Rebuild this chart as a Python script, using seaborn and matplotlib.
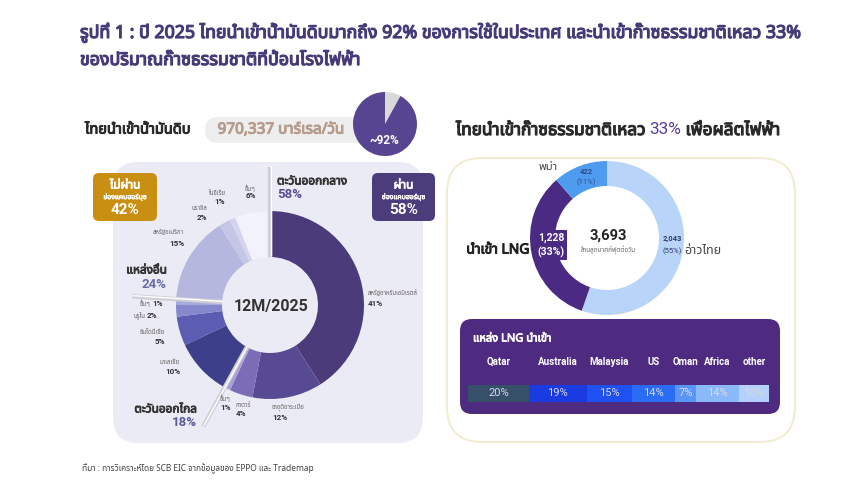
import numpy as np
import matplotlib
matplotlib.use('Agg')
import matplotlib.pyplot as plt
import seaborn as sns
from matplotlib import font_manager as fm
from matplotlib.ft2font import FT2Font
from matplotlib.patches import FancyBboxPatch
from matplotlib.patheffects import withStroke

# ---- data ----
title_1 = 'รูปที่ 1 : ปี 2025 ไทยนำเข้าน้ำมันดิบมากถึง 92% ของการใช้ในประเทศ และนำเข้าก๊าซธรรมชาติเหลว 33%'
title_2 = 'ของปริมาณก๊าซธรรมชาติที่ป้อนโรงไฟฟ้า'
source_note = 'ที่มา : การวิเคราะห์โดย SCB EIC จากข้อมูลของ EPPO และ Trademap'

crude_volume = '970,337'
crude_import_pct = 92

crude_names = ['สหรัฐอาหรับเอมิเรตส์', 'ซาอุดิอาระเบีย', 'กาตาร์', 'อื่นๆ',
               'มาเลเซีย', 'อินโดนีเซีย', 'บรูไน', 'อื่นๆ',
               'สหรัฐอเมริกา', 'บราซิล', 'ไนจีเรีย', 'อื่นๆ']
crude_share = [41, 12, 4, 1, 10, 5, 2, 1, 15, 2, 1, 6]
crude_region = ['ME'] * 4 + ['FE'] * 4 + ['OT'] * 4
region_names = {'ME': 'ตะวันออกกลาง', 'FE': 'ตะวันออกไกล', 'OT': 'แหล่งอื่น'}
hormuz_pass = 58
hormuz_nopass = 42

gas_names = ['อ่าวไทย', 'นำเข้า LNG', 'พม่า']
gas_volume = [2043, 1228, 422]
gas_share = [55, 33, 11]
gas_total = 3693
gas_lng_pct = 33

lng_names = ['Qatar', 'Australia', 'Malaysia', 'US', 'Oman', 'Africa', 'other']
lng_share = [20, 19, 15, 14, 7, 14, 10]


# ---- font with Thai glyphs ----
def find_thai_font():
    pref = ['Noto Sans Thai', 'Noto Sans Thai UI', 'Sarabun', 'Kanit', 'Prompt',
            'Loma', 'Garuda', 'Waree', 'Umpush', 'Tlwg Typo', 'Norasi', 'Kinnari']
    names = {f.name for f in fm.fontManager.ttflist}
    for p in pref:
        if p in names:
            return p
    for f in fm.fontManager.ttflist:
        try:
            if 0x0E01 in FT2Font(f.fname).get_charmap():
                return f.name
        except Exception:
            pass
    return None


sns.set_theme(style='white')
thai = find_thai_font()
plt.rcParams['font.family'] = [thai, 'DejaVu Sans'] if thai else ['DejaVu Sans']
thai_bold = False
if thai:
    thai_bold = (fm.findfont(fm.FontProperties(family=thai)) !=
                 fm.findfont(fm.FontProperties(family=thai, weight='bold')))

W, H = 860, 503
fig = plt.figure(figsize=(W / 100, H / 100), dpi=100)
fig.patch.set_facecolor('white')
bg = fig.add_axes([0, 0, 1, 1])
bg.set_xlim(0, W)
bg.set_ylim(H, 0)
bg.axis('off')
top = fig.add_axes([0, 0, 1, 1], zorder=10)
top.set_xlim(0, W)
top.set_ylim(H, 0)
top.axis('off')


def has_thai(s):
    return any('\u0e00' <= ch <= '\u0e7f' for ch in s)


def T(x, y, s, size, color, bold=False, ha='left', ax=None, **kw):
    ax = top if ax is None else ax
    if not has_thai(s):
        return ax.text(x, y, s, fontsize=size, color=color, ha=ha, va='center',
                       fontweight='bold' if bold else 'normal',
                       family=['Roboto', 'DejaVu Sans'], **kw)
    pe = None
    if bold and not thai_bold:
        pe = [withStroke(linewidth=size * 0.07, foreground=color)]
    return ax.text(x, y, s, fontsize=size, color=color, ha=ha, va='center',
                   fontweight='bold' if bold else 'normal', path_effects=pe, **kw)


def px_axes(cx, cy, half_w, half_h=None):
    half_h = half_w if half_h is None else half_h
    ax = fig.add_axes([(cx - half_w) / W, 1 - (cy + half_h) / H, 2 * half_w / W, 2 * half_h / H])
    ax.set_facecolor('none')
    return ax


def box(x0, y0, x1, y1, fc, r, ec='none', lw=0):
    bg.add_patch(FancyBboxPatch((x0, y0), x1 - x0, y1 - y0,
                                boxstyle=f'round,pad=0,rounding_size={r}',
                                fc=fc, ec=ec, lw=lw))


PURPLE = '#463a78'

# ---- titles ----
T(80, 33, title_1, 12.8, PURPLE, bold=True)
T(80, 60, title_2, 12.8, PURPLE, bold=True)

# ---- left: crude oil ----
T(85, 130, 'ไทยนำเข้าน้ำมันดิบ', 10.5, '#2a2a2a', bold=True)
box(205, 117, 380, 143, '#efeeee', 13)
T(281, 130, f'{crude_volume} บาร์เรล/วัน', 11, '#b59c8c', bold=True, ha='center')

axs = px_axes(385, 124, 40)
axs.pie([100 - crude_import_pct, crude_import_pct], colors=['#d9d9d9', '#574592'],
        radius=32, startangle=90, counterclock=False, wedgeprops=dict(edgecolor='none'))
axs.set_xlim(-40, 40)
axs.set_ylim(-40, 40)
T(384, 140, f'~{crude_import_pct}%', 8.5, 'white', bold=True, ha='center')

box(113, 162, 423, 443, '#ebebf5', 25)

crude_colors = ['#4b3b7b', '#584a92', '#7b6cb8', '#a99fd8',
                '#3e3f8a', '#5b5cb2', '#8688cc', '#a8aadc',
                '#b6b7de', '#c5c6e6', '#d3d4ee', '#f2f2fa']
R_out, R_in = 94, 48
axL = px_axes(270, 305, 150)
axL.pie(crude_share, colors=crude_colors, radius=R_out, startangle=90, counterclock=False,
        wedgeprops=dict(width=R_out - R_in, edgecolor='none'))
axL.set_xlim(-150, 150)
axL.set_ylim(-150, 150)

# region separators
cum = np.cumsum([0] + crude_share)
for i in range(len(crude_share)):
    if i == 0 or crude_region[i] != crude_region[i - 1]:
        th = np.deg2rad(90 - 360 * cum[i] / 100)
        r = np.array([R_in, R_out * 1.47])
        axL.plot(r * np.cos(th), r * np.sin(th), color='#cfcfd6', lw=3.2, solid_capstyle='butt')
        axL.plot(r * np.cos(th) + 0.6, r * np.sin(th) + 0.6, color='white', lw=1.0, solid_capstyle='butt')

T(271, 306, '12M/2025', 11.5, '#333333', bold=True, ha='center')

# segment labels: (x, y_name, y_value, align, inline)
crude_label_pos = [(368, 293, 304, 'left', False),
                   (272, 407, 417, 'left', False),
                   (236, 405, 414, 'left', False),
                   (220, 398, 407, 'left', False),
                   (180, 362, 371, 'right', False),
                   (165, 332, 341, 'right', False),
                   (157, 315, 315, 'right', True),
                   (163, 303, 303, 'right', True),
                   (184, 232, 243, 'right', False),
                   (207, 208, 217, 'right', False),
                   (225, 193, 201, 'right', False),
                   (256, 188, 196, 'right', False)]
for name, val, (x, yn, yv, al, inline) in zip(crude_names, crude_share, crude_label_pos):
    if inline:
        T(x, yv, f'{val}%', 5.8, '#333333', bold=True, ha='right')
        T(x - 12, yn, name, 4.4, '#666666', ha='right')
    else:
        T(x, yn, name, 4.4, '#666666', ha=al)
        T(x, yv, f'{val}%', 5.8, '#333333', bold=True, ha=al)

region_total = {k: sum(v for v, g in zip(crude_share, crude_region) if g == k) for k in region_names}
region_pos = {'ME': (277, 181, 195, 'left', '#5b4b94'),
              'OT': (167, 270, 284, 'right', '#6a6aae'),
              'FE': (197, 409, 423, 'right', '#5a5a98')}
for k, (x, yn, yv, al, c) in region_pos.items():
    T(x, yn, region_names[k], 8.5, '#333333', bold=True, ha=al)
    T(x, yv, f'{region_total[k]}%', 9.5, c, bold=True, ha=al)

# Hormuz boxes
for (x0, x1, fc, head, val) in [(93, 157, '#c98f12', 'ไม่ผ่าน', hormuz_nopass),
                                (372, 435, '#4b3c7c', 'ผ่าน', hormuz_pass)]:
    box(x0, 173, x1, 221, fc, 6)
    cx = (x0 + x1) / 2
    T(cx, 185, head, 8.5, 'white', bold=True, ha='center')
    T(cx, 197, 'ช่องแคบฮอร์มุซ', 5, 'white', bold=True, ha='center')
    T(cx, 210, f'{val}%', 11, 'white', bold=True, ha='center')

# ---- right: natural gas ----
renderer = fig.canvas.get_renderer()
parts = [('ไทยนำเข้าก๊าซธรรมชาติเหลว ', '#2a2a2a'), (f'{gas_lng_pct}%', '#5a3a9a'), (' เพื่อผลิตไฟฟ้า', '#2a2a2a')]
x = 456
for s, c in parts:
    t = T(x, 130, s, 12.4, c, bold=not s.endswith('%'))
    if s.endswith('%'):
        t.set_fontweight('normal')
    x += t.get_window_extent(renderer).width

box(447, 158, 795, 442, 'white', 35, ec='#f1ecd2', lw=1.5)

LNG_PURPLE = '#4b2a84'
axR = px_axes(607, 238, 100)
axR.pie(gas_volume, colors=['#b8d4f8', LNG_PURPLE, '#4f9bf0'], radius=77, startangle=90,
        counterclock=False, wedgeprops=dict(width=25, edgecolor='none'))
axR.set_xlim(-100, 100)
axR.set_ylim(-100, 100)

T(608, 236, f'{gas_total:,}', 10.5, '#222222', bold=True, ha='center')
T(608, 250, 'ล้านลูกบาศก์ฟุตต่อวัน', 4.6, '#666666', ha='center')

gas_lab = [(672, 239, 251, '#2d3d6a', 5.5), (551, 238, 252, 'white', 7.5), (586, 171, 182, '#2d4d8a', 5.5)]
for v, s, (x, y1, y2, c, fs) in zip(gas_volume, gas_share, gas_lab):
    if c == 'white':
        T(x, 245, f'{v:,}\n({s}%)', fs, c, bold=True, ha='center', linespacing=1.45,
          bbox=dict(fc=LNG_PURPLE, ec='none', pad=1.5))
    else:
        T(x, y1, f'{v:,}', fs, c, bold=True, ha='center')
        T(x, y2, f'({s}%)', fs, c, ha='center')

T(703, 250, gas_names[0], 9, '#444444', ha='center')
T(498, 250, gas_names[1], 10, '#222222', bold=True, ha='center')
T(548, 168, gas_names[2], 8, '#444444', ha='center')

# LNG sources box
box(460, 319, 780, 414, '#4e2a80', 12)
T(473, 339, 'แหล่ง LNG นำเข้า', 8, 'white', bold=True)

axB = fig.add_axes([468 / W, 1 - 402 / H, 301 / W, 17 / H])
lng_colors = ['#37506a', '#1a3be0', '#1f50f0', '#2b6cf5', '#5a96f5', '#8ab8f8', '#b5d0fa']
left = np.cumsum([0] + lng_share[:-1])
axB.barh(0, lng_share, left=left, color=lng_colors, height=1.0, edgecolor='none')
axB.set_xlim(0, sum(lng_share))
axB.set_ylim(-0.5, 0.5)
axB.axis('off')
for l, s, n in zip(left, lng_share, lng_names):
    T(l + s / 2, 0, f'{s}%', 8, '#d5dae6', ha='center', ax=axB)
    T(l + s / 2, 2.35, n, 7, 'white', bold=True, ha='center', ax=axB,
      transform=axB.get_xaxis_transform())

# ---- footnote ----
T(82, 469, source_note, 6, '#444444')

fig.savefig('out.png', dpi=100, facecolor='white')
